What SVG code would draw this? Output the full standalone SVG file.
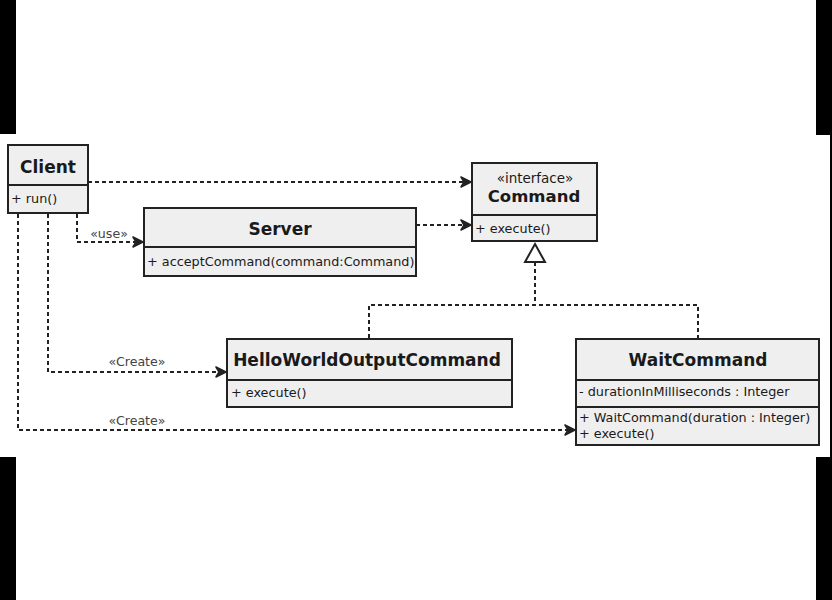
<svg xmlns="http://www.w3.org/2000/svg" width="832" height="600" viewBox="0 0 832 600">
<defs>
<style>
.box{fill:#efefef;stroke:#222;stroke-width:2}
.div{stroke:#222;stroke-width:2}
.t{font-family:"DejaVu Sans",Verdana,sans-serif;fill:#1a1a1a}
.b{font-weight:bold;font-size:17px}
.m{font-size:12.8px}
.s{font-size:12.6px;fill:#444}
.c{fill:none;stroke:#222;stroke-width:2;stroke-dasharray:4 3}
</style>
<marker id="open" viewBox="0 0 12 12" refX="11" refY="6" markerWidth="12" markerHeight="12" markerUnits="userSpaceOnUse" orient="auto">
<path d="M1,1 L11,6 L1,11 L4,6 Z" fill="#222" stroke="#222" stroke-width="1.5" stroke-linejoin="round"/>
</marker>
</defs>
<rect x="0" y="0" width="832" height="600" fill="#fff"/>
<g id="frame">
<rect x="0" y="0" width="16" height="134" fill="#000"/>
<rect x="816" y="0" width="16" height="135" fill="#000"/>
<rect x="830" y="135" width="2" height="322" fill="#000"/>
<rect x="0" y="457" width="16" height="143" fill="#000"/>
<rect x="816" y="457" width="16" height="143" fill="#000"/>
</g>
<g id="connectors">
<path class="c" d="M88,182 H471" marker-end="url(#open)"/>
<path class="c" d="M416,225 H471" marker-end="url(#open)"/>
<path class="c" d="M77,214 V242 H143" marker-end="url(#open)"/>
<path class="c" d="M48,214 V372 H226" marker-end="url(#open)"/>
<path class="c" d="M18,214 V430 H575" marker-end="url(#open)"/>
<path class="c" d="M369,338 V305 H698 V338"/>
<path class="c" d="M535,262 V305"/>
<path d="M535,244 L545,262 L525,262 Z" fill="#fff" stroke="#222" stroke-width="2"/>
<text class="t s" x="109" y="238" text-anchor="middle">«use»</text>
<text class="t s" x="137" y="366" text-anchor="middle">«Create»</text>
<text class="t s" x="137" y="425" text-anchor="middle">«Create»</text>
</g>
<g id="client">
<rect class="box" x="8" y="145" width="80" height="68"/>
<line class="div" x1="8" y1="185" x2="88" y2="185"/>
<text class="t b" x="48" y="173" text-anchor="middle">Client</text>
<text class="t m" x="11" y="203">+ run()</text>
</g>
<g id="server">
<rect class="box" x="144" y="208" width="272" height="68"/>
<line class="div" x1="144" y1="247" x2="416" y2="247"/>
<text class="t b" x="280" y="235" text-anchor="middle">Server</text>
<text class="t m" x="147" y="266">+ acceptCommand(command:Command)</text>
</g>
<g id="command">
<rect class="box" x="472" y="163" width="125" height="78"/>
<line class="div" x1="472" y1="215" x2="597" y2="215"/>
<text class="t m" x="535" y="183" text-anchor="middle" style="font-size:13.5px">«interface»</text>
<text class="t b" x="534" y="202" text-anchor="middle" style="font-size:16.5px">Command</text>
<text class="t m" x="475" y="233">+ execute()</text>
</g>
<g id="helloworld">
<rect class="box" x="227" y="339" width="285" height="68"/>
<line class="div" x1="227" y1="380" x2="512" y2="380"/>
<text class="t b" x="367" y="366" text-anchor="middle">HelloWorldOutputCommand</text>
<text class="t m" x="231" y="397">+ execute()</text>
</g>
<g id="waitcommand">
<rect class="box" x="576" y="339" width="243" height="106"/>
<line class="div" x1="576" y1="380" x2="819" y2="380"/>
<line class="div" x1="576" y1="407" x2="819" y2="407"/>
<text class="t b" x="698" y="366" text-anchor="middle">WaitCommand</text>
<text class="t m" x="579" y="396">- durationInMilliseconds : Integer</text>
<text class="t m" x="579" y="422">+ WaitCommand(duration : Integer)</text>
<text class="t m" x="579" y="438">+ execute()</text>
</g>
</svg>
